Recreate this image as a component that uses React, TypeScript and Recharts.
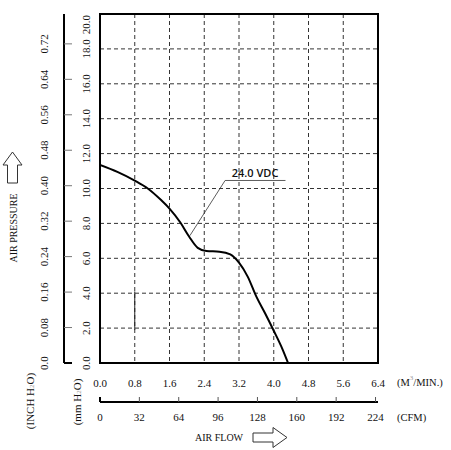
import React from 'react';
import {
  LineChart,
  Line,
  XAxis,
  YAxis,
  CartesianGrid,
  ReferenceArea,
  ReferenceLine,
  ReferenceDot,
} from 'recharts';

// P-Q curve at 24 VDC: air flow in m³/min, static pressure in mm H2O
const flow = [0, 0.4, 0.8, 1.1, 1.4, 1.6, 1.85, 2.05, 2.25, 2.45, 2.75, 3.0, 3.2, 3.4, 3.6, 3.8, 4.0, 4.2, 4.33];
const pressure = [11.35, 10.95, 10.45, 10.0, 9.35, 8.85, 8.05, 7.25, 6.6, 6.42, 6.38, 6.22, 5.75, 4.95, 3.8, 2.85, 1.85, 0.8, 0.0];

const flowTicks = [0, 0.8, 1.6, 2.4, 3.2, 4.0, 4.8, 5.6, 6.4];
const flowLabels = ['0.0', '0.8', '1.6', '2.4', '3.2', '4.0', '4.8', '5.6', '6.4'];
const cfmTicks = [0, 32, 64, 96, 128, 160, 192, 224];
const mmTicks = [0, 2, 4, 6, 8, 10, 12, 14, 16, 18, 20];
const mmLabels = ['0.0', '2.0', '4.0', '6.0', '8.0', '10.0', '12.0', '14.0', '16.0', '18.0', '20.0'];
const inchTicks = [0, 0.08, 0.16, 0.24, 0.32, 0.4, 0.48, 0.56, 0.64, 0.72];
const inchLabels = ['0.0', '0.08', '0.16', '0.24', '0.32', '0.40', '0.48', '0.56', '0.64', '0.72'];

const voltageLabel = '24.0 VDC';

const CFM_PER_M3 = 35.3147;
const MM_PER_INCH = 25.4;
const FLOW_MAX = 6.4;
const MM_MAX = 20;

const data = flow.map((f, i) => ({
  flow: f,
  cfm: f * CFM_PER_M3,
  pressure: pressure[i],
  inch: pressure[i] / MM_PER_INCH,
}));

// axis ids sort inner-first: x1/y1 sit against the plot, x2/y2 outside them
const M3 = 'x1';
const CFM = 'x2';
const MM = 'y1';
const INCH = 'y2';

const serif = '"Liberation Serif", "DejaVu Serif", serif';
const ink = '#111';

const RotText = ({ cx, cy, anchor = 'middle', size = 11, children }: any) => (
  <text
    x={cx}
    y={cy}
    transform={`rotate(-90 ${cx} ${cy})`}
    textAnchor={anchor}
    dominantBaseline="central"
    fontSize={size}
    fontFamily={serif}
    fill={ink}
  >
    {children}
  </text>
);

const FlowTick = ({ x, y, payload }: any) => (
  <text x={x} y={y + 20} textAnchor="middle" dominantBaseline="central" fontSize={11} fontFamily={serif} fill={ink}>
    {flowLabels[flowTicks.indexOf(payload.value)]}
  </text>
);

const CfmTick = ({ x, y, payload }: any) => (
  <g>
    <line
      x1={x}
      y1={y}
      x2={x}
      y2={y - 5}
      stroke={payload.value === 0 ? '#000' : '#555'}
      strokeWidth={payload.value === 0 ? 2 : 1}
    />
    <text x={x} y={y + 15} textAnchor="middle" dominantBaseline="central" fontSize={11} fontFamily={serif} fill={ink}>
      {payload.value}
    </text>
  </g>
);

const MmTick = ({ x, y, payload }: any) => {
  const label = mmLabels[mmTicks.indexOf(payload.value)];
  // top label hangs down from the frame instead of centring on it
  if (payload.value === MM_MAX) {
    return <RotText cx={x - 14} cy={y + 1} anchor="end">{label}</RotText>;
  }
  return <RotText cx={x - 14} cy={y}>{label}</RotText>;
};

const InchTick = ({ x, y, payload }: any) => (
  <g>
    <line
      x1={x}
      y1={y}
      x2={x + 8}
      y2={y}
      stroke={payload.value === 0 ? '#000' : '#777'}
      strokeWidth={payload.value === 0 ? 2 : 1}
    />
    <RotText cx={x - 20} cy={y}>{inchLabels[inchTicks.indexOf(payload.value)]}</RotText>
  </g>
);

export default function App() {
  return (
    <div style={{ position: 'absolute', left: 0, top: 0, width: 451, height: 450, background: '#fff' }}>
      <LineChart width={451} height={450} data={data} margin={{ top: 14, right: 73, bottom: 0, left: 0 }}>
        <CartesianGrid xAxisId={M3} yAxisId={MM} stroke="#333" strokeDasharray="4 3" />
        <XAxis
          xAxisId={M3}
          dataKey="flow"
          type="number"
          domain={[0, FLOW_MAX]}
          ticks={flowTicks}
          interval={0}
          allowDataOverflow
          height={39}
          axisLine={false}
          tickLine={false}
          tickSize={0}
          tickMargin={0}
          tick={<FlowTick />}
        />
        <XAxis
          xAxisId={CFM}
          dataKey="cfm"
          type="number"
          domain={[0, FLOW_MAX * CFM_PER_M3]}
          ticks={cfmTicks}
          interval={0}
          allowDataOverflow
          height={48}
          axisLine={{ stroke: '#000', strokeWidth: 2 }}
          tickLine={false}
          tickSize={0}
          tickMargin={0}
          tick={<CfmTick />}
        />
        <YAxis
          yAxisId={MM}
          type="number"
          domain={[0, MM_MAX]}
          ticks={mmTicks}
          interval={0}
          allowDataOverflow
          width={36}
          axisLine={false}
          tickLine={false}
          tickSize={0}
          tickMargin={0}
          tick={<MmTick />}
        />
        <YAxis
          yAxisId={INCH}
          dataKey="inch"
          type="number"
          domain={[0, MM_MAX / MM_PER_INCH]}
          ticks={inchTicks}
          interval={0}
          allowDataOverflow
          width={64}
          axisLine={{ stroke: '#000', strokeWidth: 2 }}
          tickLine={false}
          tickSize={0}
          tickMargin={0}
          tick={<InchTick />}
        />
        <ReferenceArea
          xAxisId={M3}
          yAxisId={MM}
          x1={0}
          x2={FLOW_MAX}
          y1={0}
          y2={MM_MAX}
          fill="none"
          stroke="#000"
          strokeWidth={2}
        />
        <ReferenceLine
          xAxisId={M3}
          yAxisId={MM}
          segment={[{ x: 0.8, y: 1.9 }, { x: 0.8, y: 4.1 }]}
          stroke="#222"
          strokeWidth={1}
        />
        {/* leader from the voltage tag down to the curve */}
        <ReferenceLine
          xAxisId={M3}
          yAxisId={MM}
          segment={[{ x: 2.07, y: 7.3 }, { x: 2.88, y: 10.46 }]}
          stroke="#333"
          strokeWidth={0.8}
        />
        <ReferenceLine
          xAxisId={M3}
          yAxisId={MM}
          segment={[{ x: 2.88, y: 10.46 }, { x: 4.27, y: 10.46 }]}
          stroke="#333"
          strokeWidth={0.8}
        />
        <ReferenceDot
          xAxisId={M3}
          yAxisId={MM}
          x={3.57}
          y={10.46}
          r={0}
          fill="none"
          stroke="none"
          label={{
            value: voltageLabel,
            position: 'top',
            offset: 3,
            fontSize: 11,
            fontWeight: 600,
            fontFamily: '"Open Sans", "Liberation Sans", sans-serif',
            fill: ink,
          }}
        />
        <Line
          xAxisId={M3}
          yAxisId={MM}
          type="monotone"
          dataKey="pressure"
          stroke="#000"
          strokeWidth={2}
          dot={false}
          activeDot={false}
          isAnimationActive={false}
        />
      </LineChart>

      {/* axis titles and arrows */}
      <svg width={451} height={450} style={{ position: 'absolute', left: 0, top: 0, pointerEvents: 'none' }}>
        <polygon
          points="12.5,152 22,165 17.5,165 17.5,183 7.5,183 7.5,165 3,165"
          fill="#fff"
          stroke="#333"
          strokeWidth={1}
        />
        <RotText cx={13} cy={228} size={10}>AIR PRESSURE</RotText>
        <RotText cx={30} cy={401} size={11}>
          (INCH H<tspan fontSize={7} fill="#999" dy={2}>2</tspan>
          <tspan dy={-2}>O)</tspan>
        </RotText>
        <RotText cx={77} cy={402} size={11}>
          (mm H<tspan fontSize={7} fill="#999" dy={2}>2</tspan>
          <tspan dy={-2}>O)</tspan>
        </RotText>
        <text x={397} y={382} dominantBaseline="central" fontSize={10.5} fontFamily={serif} fill={ink}>
          (M<tspan fontSize={7} fill="#999" dy={-4}>3</tspan>
          <tspan dy={4}>/MIN.)</tspan>
        </text>
        <text x={397} y={417} dominantBaseline="central" fontSize={10.5} fontFamily={serif} fill={ink}>
          (CFM)
        </text>
        <text x={195} y={437} dominantBaseline="central" fontSize={10} fontFamily={serif} fill={ink}>
          AIR FLOW
        </text>
        <polygon
          points="253,433 273,433 273,427.5 287,437.5 273,447.5 273,442 253,442"
          fill="#fff"
          stroke="#333"
          strokeWidth={1}
        />
      </svg>
    </div>
  );
}
